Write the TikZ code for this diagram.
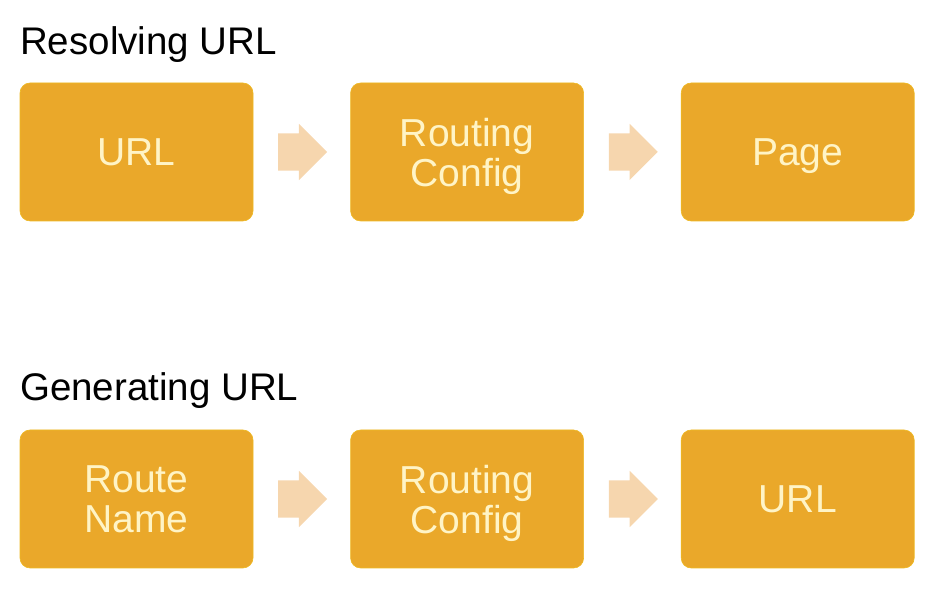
\documentclass[tikz,border=0pt]{standalone}
\usepackage{fontspec}
\setmainfont{Liberation Sans}
\usetikzlibrary{calc,positioning,shapes.arrows}

\definecolor{boxgold}{HTML}{EAA82A}
\definecolor{boxtext}{HTML}{FFF4C6}
\definecolor{arrowtan}{HTML}{F6D6AE}

\tikzset{
  stepbox/.style={fill=boxgold, draw=boxgold!80!yellow, line width=0.6pt,
    rounded corners=10pt, minimum width=233pt, minimum height=138pt,
    text=boxtext, align=center, font=\fontsize{39}{40}\selectfont,
    inner sep=0pt, text depth=0pt},
  flowarrow/.style={single arrow, fill=arrowtan, draw=none, minimum height=49pt,
    inner xsep=0pt, inner ysep=18.5pt, single arrow head extend=9.5pt,
    single arrow head indent=0pt, xshift=-8.5pt},
  heading/.style={anchor=base west, inner sep=0pt, font=\fontsize{38.5}{40}\selectfont}
}

\begin{document}
\begin{tikzpicture}[x=1pt,y=1pt]
\useasboundingbox (0,0) rectangle (940,612);
% Resolving URL
\node[heading] (resolve) at (20,557) {Resolving URL};
\node[stepbox] (url1) at (136.5,460) {URL};
\node[stepbox, right=97pt of url1] (cfg1) {Routing\\Config};
\node[stepbox, right=97pt of cfg1] (page) {Page};
\node[flowarrow] (ra) at ($(url1.east)!.5!(cfg1.west)$) {};
\node[flowarrow] (rb) at ($(cfg1.east)!.5!(page.west)$) {};
% Generating URL
\node[heading] (generate) at (20,211) {Generating URL};
\node[stepbox] (route) at (136.5,113) {Route\\Name};
\node[stepbox, right=97pt of route] (cfg2) {Routing\\Config};
\node[stepbox, right=97pt of cfg2] (url2) {URL};
\node[flowarrow] (ga) at ($(route.east)!.5!(cfg2.west)$) {};
\node[flowarrow] (gb) at ($(cfg2.east)!.5!(url2.west)$) {};
\end{tikzpicture}
\end{document}
